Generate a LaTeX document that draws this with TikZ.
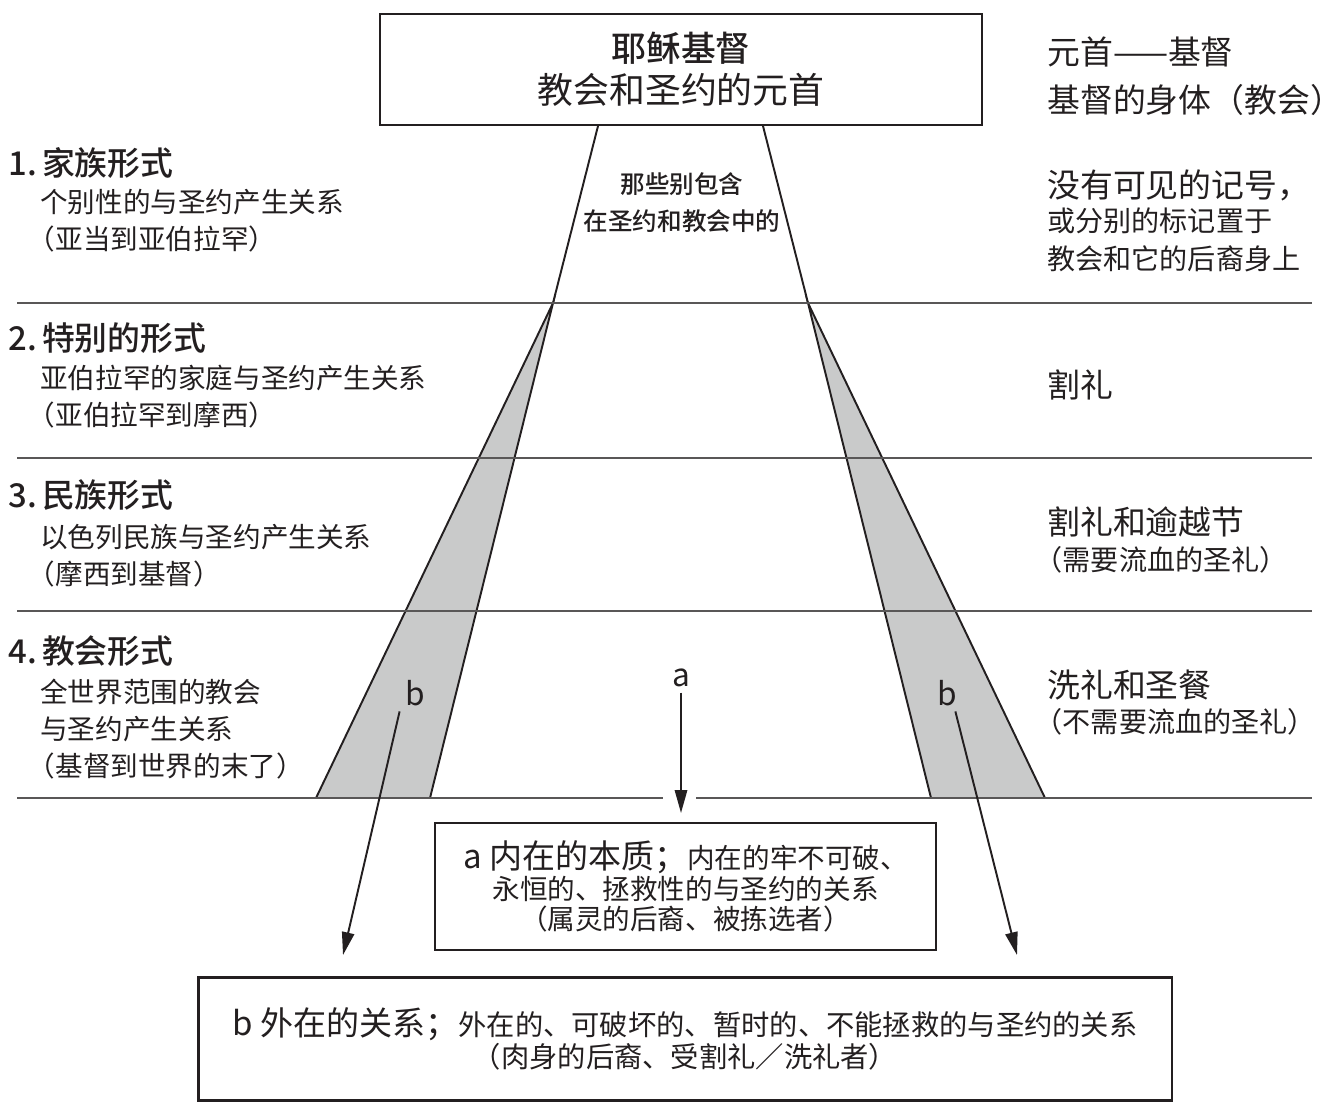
\documentclass[tikz,border=0pt]{standalone}
\usepackage{fontspec}
\setmainfont{Noto Sans CJK SC}[BoldFont={Noto Sans CJK SC Medium}]
\definecolor{inkBlack}{HTML}{231F20}
\definecolor{ruleGrey}{HTML}{595757}
\definecolor{bandGrey}{HTML}{C9CACA}
\usetikzlibrary{arrows.meta}
\newcommand{\lp}{\kern-0.45em（}

\begin{document}
\begin{tikzpicture}[
    x=0.02cm, y=-0.02cm,
    frame/.style={rectangle, draw=inkBlack, line width=1.6pt, fill=white, align=center, text=inkBlack},
    head/.style={anchor=west, inner sep=0pt, text=inkBlack, font=\fontsize{18.7}{22}\selectfont\bfseries},
    sub/.style={anchor=west, inner sep=0pt, text=inkBlack, align=left, font=\fontsize{15.7}{21}\selectfont},
    side/.style={anchor=west, inner sep=0pt, text=inkBlack, font=\fontsize{18.7}{21}\selectfont},
    note/.style={anchor=west, inner sep=0pt, text=inkBlack, font=\fontsize{16}{21}\selectfont},
    lbl/.style={inner sep=3pt, text=inkBlack, font=\fontsize{18}{20}\selectfont},
    rule/.style={ruleGrey, line width=0.8pt},
    edge/.style={inkBlack, line width=1.1pt},
    band/.style={draw=inkBlack, line width=1.1pt, fill=bandGrey, line join=miter},
    arr/.style={-{Triangle[length=13pt, width=7pt]}, line width=1.1pt, inkBlack}
]
\useasboundingbox (0,0) rectangle (1341,1103);

% funnel and grey bands
\draw[edge] (598,126) -- (553,303);
\draw[edge] (763,126) -- (808,303);
\draw[band] (553,303) -- (316,798) -- (430,798) -- cycle;
\draw[band] (808,303) -- (931,798) -- (1045,798) -- cycle;

% period rules
\foreach \y in {303,458,611}
  \draw[rule] (17,\y) -- (1312,\y);
\draw[rule] (17,798) -- (663,798);
\draw[rule] (696,798) -- (1312,798);

% head box
\node[frame, minimum width=12.04cm, minimum height=2.22cm, font=\fontsize{20.4}{23.8}\selectfont] (hd) at (681,69.5)
  {{\fontsize{19.8}{23.8}\selectfont\bfseries 耶稣基督}\\教会和圣约的元首};
\node[align=center, text=inkBlack, font=\fontsize{14}{21}\selectfont\bfseries] (incl) at (682,203)
  {那些别包含\\在圣约和教会中的};

% left column
\node[head] (f1) at (8,163) {1.\kern3pt 家族形式};
\node[sub] (f1s) at (40,221) {个别性的与圣约产生关系\\\lp 亚当到亚伯拉罕）};
\node[head] (f2) at (8,338) {2.\kern3pt 特别的形式};
\node[sub] (f2s) at (40,397) {亚伯拉罕的家庭与圣约产生关系\\\lp 亚伯拉罕到摩西）};
\node[head] (f3) at (8,495) {3.\kern3pt 民族形式};
\node[sub] (f3s) at (40,556) {以色列民族与圣约产生关系\\\lp 摩西到基督）};
\node[head] (f4) at (8,651) {4.\kern3pt 教会形式};
\node[sub] (f4s) at (40,729) {全世界范围的教会\\与圣约产生关系\\\lp 基督到世界的末了）};

% right column
\node[side] (r0a) at (1047,52) {元首——基督};
\node[side] (r0b) at (1047,100) {基督的身体（教会）};
\node[side] (r1a) at (1047,185) {没有可见的记号，};
\node[note] (r1b) at (1047,221) {或分别的标记置于};
\node[note] (r1c) at (1047,259) {教会和它的后裔身上};
\node[side] (r2) at (1047,385) {割礼};
\node[side] (r3a) at (1047,522) {割礼和逾越节};
\node[note] (r3b) at (1047,560) {\lp 需要流血的圣礼）};
\node[side] (r4a) at (1047,685) {洗礼和圣餐};
\node[note] (r4b) at (1047,722) {\lp 不需要流血的圣礼）};

% labels and arrows
\node[lbl] (la) at (681,678) {a};
\node[lbl] (lbL) at (415,693) {b};
\node[lbl] (lbR) at (947,693) {b};
\coordinate (ta) at (681,813);
\coordinate (tbL) at (343,955);
\coordinate (tbR) at (1017,955);
\draw[arr] (la) -- (ta);
\draw[arr] (lbL.south west) -- (tbL);
\draw[arr] ([xshift=-4pt]lbR.south east) -- (tbR);

% result boxes
\node[frame, minimum width=10.02cm, minimum height=2.54cm, font=\fontsize{15.7}{17.3}\selectfont] (inner) at (685.5,886.5)
  {{\fontsize{18.8}{17.3}\selectfont a 内在的本质；}内在的牢不可破、\\永恒的、拯救性的与圣约的关系\\（属灵的后裔、被拣选者）};
\node[frame, minimum width=19.48cm, minimum height=2.46cm, font=\fontsize{16.1}{16.5}\selectfont] (outer) at (685,1039)
  {{\fontsize{18.8}{16.5}\selectfont b 外在的关系；}外在的、可破坏的、暂时的、不能拯救的与圣约的关系\\（肉身的后裔、受割礼／洗礼者）};
\end{tikzpicture}
\end{document}
